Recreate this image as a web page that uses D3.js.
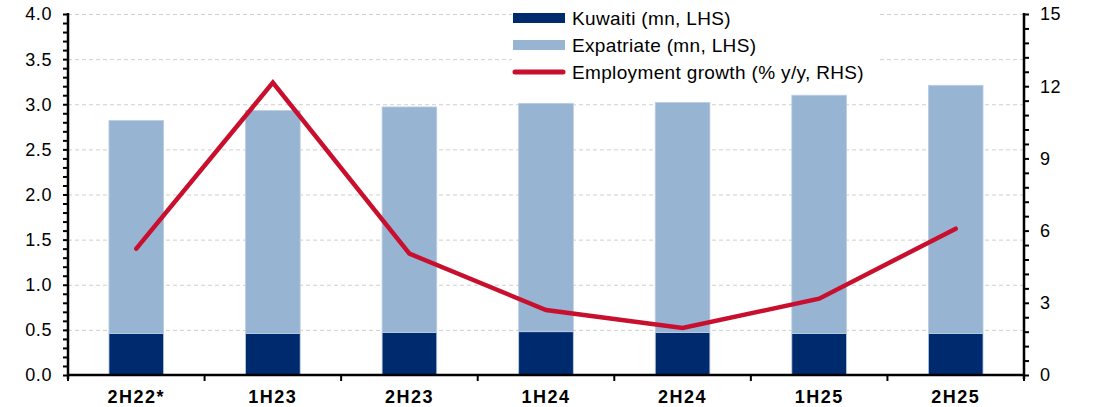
<html>
<head>
<meta charset="utf-8">
<title>Kuwait employment</title>
<style>
  body { margin: 0; background: #fff; }
  text { font-family: "Liberation Sans", Arial, sans-serif; fill: #000; }
  .grid line { stroke: #cfcfcf; stroke-dasharray: 4,3; }
  .axis path, .axis line { stroke: #000; }
</style>
</head>
<body>
<svg width="1099" height="407"></svg>
<script src="https://cdnjs.cloudflare.com/ajax/libs/d3/7.8.5/d3.min.js"></script>
<script>
// data
var categories = ["2H22*", "1H23", "2H23", "1H24", "2H24", "1H25", "2H25"];
var kuwaiti    = [0.46, 0.46, 0.47, 0.48, 0.47, 0.46, 0.46];
var expatriate = [2.36, 2.47, 2.50, 2.53, 2.55, 2.64, 2.75];
var growth     = [5.25, 12.15, 5.04, 2.70, 1.95, 3.17, 6.08];
var leftTicks  = [0, 0.5, 1, 1.5, 2, 2.5, 3, 3.5, 4];
var rightTicks = [0, 3, 6, 9, 12, 15];
var legendLabels = ["Kuwaiti (mn, LHS)", "Expatriate (mn, LHS)", "Employment growth (% y/y, RHS)"];

var navy = "#002a6e", lightBlue = "#98b4d3", red = "#c8102e";

var svg = d3.select("svg"),
    x0 = 68, x1 = 1024, yTop = 14, yBot = 375;

var x = d3.scaleBand().domain(categories).range([x0, x1])
    .paddingInner(0.6).paddingOuter(0.3);
var yL = d3.scaleLinear().domain([0, 4]).range([yBot, yTop]);
var yR = d3.scaleLinear().domain([0, 15]).range([yBot, yTop]);

// gridlines
svg.append("g").attr("class", "grid")
  .selectAll("line").data(leftTicks.slice(1)).enter().append("line")
    .attr("x1", x0).attr("x2", x1)
    .attr("y1", function(d) { return yL(d) + 0.5; })
    .attr("y2", function(d) { return yL(d) + 0.5; });

// stacked bars
var rows = categories.map(function(c, i) {
  return {cat: c, kuwaiti: kuwaiti[i], expatriate: expatriate[i]};
});
var stack = d3.stack().keys(["kuwaiti", "expatriate"])(rows);
var colors = {kuwaiti: navy, expatriate: lightBlue};

svg.selectAll(".layer").data(stack).enter().append("g")
    .attr("class", "layer")
    .attr("fill", function(d) { return colors[d.key]; })
  .selectAll("rect").data(function(d) { return d; }).enter().append("rect")
    .attr("x", function(d) { return x(d.data.cat); })
    .attr("width", x.bandwidth())
    .attr("y", function(d) { return yL(d[1]); })
    .attr("height", function(d) { return yL(d[0]) - yL(d[1]); })
    .attr("stroke", "#b9cce1").attr("stroke-width", 0.8);

// growth line
var line = d3.line()
    .x(function(d, i) { return x(categories[i]) + x.bandwidth() / 2; })
    .y(function(d) { return yR(d); });
svg.append("path").datum(growth)
    .attr("d", line)
    .attr("fill", "none").attr("stroke", red)
    .attr("stroke-width", 4.5)
    .attr("stroke-linecap", "round").attr("stroke-linejoin", "miter");

// left axis
var gL = svg.append("g").attr("class", "axis").attr("transform", "translate(" + x0 + ",0)");
gL.call(d3.axisLeft(yL).tickValues(d3.range(0, 4.001, 0.1)).tickSize(5).tickFormat(""));
gL.select(".domain").remove();
gL.append("line").attr("x1", 0).attr("x2", 0).attr("y1", yTop - 1).attr("y2", yBot + 4)
    .attr("stroke", "#000").attr("stroke-width", 2.5);
gL.selectAll(".tick line").attr("stroke-width", 2);
gL.selectAll(".lab").data(leftTicks).enter().append("text")
    .attr("x", -16).attr("y", function(d) { return yL(d); })
    .attr("dy", "0.36em").attr("text-anchor", "end")
    .style("font-size", "18px").style("letter-spacing", "0.6px")
    .text(d3.format(".1f"));

// right axis
var gR = svg.append("g").attr("class", "axis").attr("transform", "translate(" + x1 + ",0)");
gR.call(d3.axisRight(yR).tickValues(d3.range(0, 15.001, 0.6)).tickSize(5).tickFormat(""));
gR.select(".domain").remove();
gR.append("line").attr("x1", 0).attr("x2", 0).attr("y1", yTop - 1).attr("y2", yBot + 4)
    .attr("stroke", "#000").attr("stroke-width", 2.5);
gR.selectAll(".tick line").attr("stroke-width", 2);
gR.selectAll(".lab").data(rightTicks).enter().append("text")
    .attr("x", 16).attr("y", function(d) { return yR(d); })
    .attr("dy", "0.36em").attr("text-anchor", "start")
    .style("font-size", "18px").style("letter-spacing", "0.6px")
    .text(function(d) { return d; });

// x axis
var gX = svg.append("g").attr("class", "axis").attr("transform", "translate(0," + yBot + ")");
gX.append("line").attr("x1", x0).attr("x2", x1).attr("stroke", "#000").attr("stroke-width", 2.5);
gX.selectAll(".sep").data(d3.range(categories.length + 1)).enter().append("line")
    .attr("x1", function(i) { return x0 + i * x.step(); })
    .attr("x2", function(i) { return x0 + i * x.step(); })
    .attr("y1", 0).attr("y2", 6)
    .attr("stroke", "#000").attr("stroke-width", 2);
gX.selectAll(".lab").data(categories).enter().append("text")
    .attr("x", function(d) { return x(d) + x.bandwidth() / 2; })
    .attr("y", 28).attr("text-anchor", "middle")
    .style("font-size", "18px").style("font-weight", "bold").style("letter-spacing", "1.5px")
    .text(function(d) { return d; });

// legend
var lg = svg.append("g");
lg.append("rect").attr("x", 512).attr("y", 2).attr("width", 365).attr("height", 82).attr("fill", "#fff");
var items = lg.selectAll(".item").data(legendLabels).enter().append("g")
    .attr("transform", function(d, i) { return "translate(513," + (18 + i * 27) + ")"; });
items.each(function(d, i) {
  var g = d3.select(this);
  if (i < 2) {
    g.append("rect").attr("x", 0).attr("y", -5).attr("width", 52).attr("height", 10)
      .attr("fill", i === 0 ? navy : lightBlue);
  } else {
    g.append("line").attr("x1", 2).attr("x2", 50).attr("y1", 0).attr("y2", 0)
      .attr("stroke", red).attr("stroke-width", 5).attr("stroke-linecap", "round");
  }
  g.append("text").attr("x", 59).attr("dy", "0.36em")
    .style("font-size", "19px").style("letter-spacing", "0.35px").text(d);
});
</script>
</body>
</html>
